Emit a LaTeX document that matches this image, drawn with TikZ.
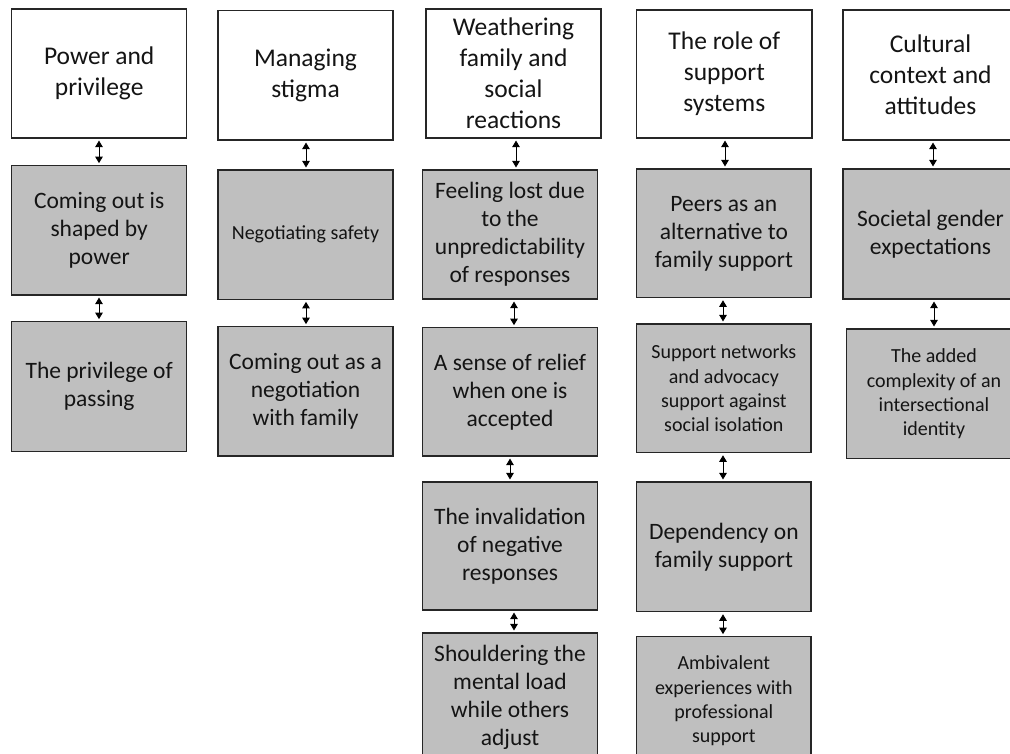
\documentclass[tikz,border=0pt]{standalone}
\usepackage{fontspec}
\setmainfont{Carlito}
\usetikzlibrary{arrows.meta}
\definecolor{gfill}{RGB}{191,191,191}
\definecolor{edge}{RGB}{38,38,38}
\begin{document}
\begin{tikzpicture}[x=1pt,y=-1pt,
  base/.style={draw=edge, line width=1.1pt, inner sep=2pt, align=center, text=black!92,
    font=\fontsize{23.5}{28}\selectfont},
  wbox/.style={base, fill=white, font=\fontsize{25.5}{31}\selectfont},
  gbox/.style={base, fill=gfill},
  small/.style={font=\fontsize{20}{24.2}\selectfont},
  arr/.style={{Triangle[width=7.5pt,length=6.5pt]}-{Triangle[width=7.5pt,length=6.5pt]},
    line width=0.9pt, draw=black, shorten <=2pt, shorten >=2pt}]
\useasboundingbox (0,0) rectangle (1010,753);
\clip (0,0) rectangle (1010,753);
% column 1
\node[wbox, minimum width=175pt, minimum height=129pt] (W1) at (99.2,73.5) {Power and\\privilege};
\node[gbox, minimum width=175pt, minimum height=129.3pt] (G1a) at (99.2,230.35) {Coming out is\\shaped by\\power};
\node[gbox, minimum width=175pt, minimum height=130pt] (G1b) at (99.2,386.7) {The privilege of\\passing};
% column 2
\node[wbox, minimum width=175pt, minimum height=129.3pt] (W2) at (305.5,75.35) {Managing\\stigma};
\node[gbox, small, minimum width=175pt, minimum height=129.3pt] (G2a) at (305.5,234.65) {Negotiating safety};
\node[gbox, minimum width=175pt, minimum height=129.3pt] (G2b) at (305.5,391.35) {Coming out as a\\negotiation\\with family};
% column 3
\node[wbox, minimum width=175pt, minimum height=129pt] (W3) at (513.5,73.5) {Weathering\\family and\\social\\reactions};
\node[gbox, minimum width=174.6pt, minimum height=129pt] (G3a) at (510,234.5) {Feeling lost due\\to the\\unpredictability\\of responses};
\node[gbox, minimum width=174.6pt, minimum height=128.3pt] (G3b) at (510,391.85) {A sense of relief\\when one is\\accepted};
\node[gbox, minimum width=174.6pt, minimum height=128pt] (G3c) at (510,546) {The invalidation\\of negative\\responses};
\node[gbox, minimum width=174.6pt, minimum height=129pt] (G3d) at (510,697.5) {Shouldering the\\mental load\\while others\\adjust};
% column 4
\node[wbox, minimum width=175.3pt, minimum height=128pt] (W4) at (724.35,74) {The role of\\support\\systems};
\node[gbox, minimum width=174.3pt, minimum height=128.7pt] (G4a) at (723.85,233.35) {Peers as an\\alternative to\\family support};
\node[gbox, small, minimum width=174.3pt, minimum height=128.7pt] (G4b) at (723.85,388.35) {Support networks\\and advocacy\\support against\\social isolation};
\node[gbox, minimum width=174.3pt, minimum height=129.7pt] (G4c) at (723.85,546.85) {Dependency on\\family support};
\node[gbox, small, minimum width=174.3pt, minimum height=128.3pt] (G4d) at (723.85,700.85) {Ambivalent\\experiences with\\professional\\support};
% column 5
\node[wbox, minimum width=175pt, minimum height=130pt] (W5) at (930.5,75) {Cultural\\context and\\attitudes};
\node[gbox, minimum width=175pt, minimum height=130pt] (G5a) at (930.5,234) {Societal gender\\expectations};
\node[gbox, small, minimum width=174.6pt, minimum height=129.7pt] (G5b) at (934,393.85) {The added\\complexity of an\\intersectional\\identity};
% arrow columns
\coordinate (x1) at (99,0);
\coordinate (x2) at (306,0);
\coordinate (x3a) at (516,0);
\coordinate (x3b) at (514,0);
\coordinate (x3c) at (510,0);
\coordinate (x3d) at (514,0);
\coordinate (x4a) at (725,0);
\coordinate (x4b) at (723,0);
\coordinate (x5a) at (933,0);
\coordinate (x5b) at (934,0);
% connectors
\draw[arr] (W1.south -| x1) -- (G1a.north -| x1);
\draw[arr] (G1a.south -| x1) -- (G1b.north -| x1);
\draw[arr] (W2.south -| x2) -- (G2a.north -| x2);
\draw[arr] (G2a.south -| x2) -- (G2b.north -| x2);
\draw[arr] (W3.south -| x3a) -- (G3a.north -| x3a);
\draw[arr] (G3a.south -| x3b) -- (G3b.north -| x3b);
\draw[arr] (G3b.south -| x3c) -- (G3c.north -| x3c);
\draw[arr] (G3c.south -| x3d) -- (G3d.north -| x3d);
\draw[arr] (W4.south -| x4a) -- (G4a.north -| x4a);
\draw[arr] (G4a.south -| x4b) -- (G4b.north -| x4b);
\draw[arr] (G4b.south -| x4b) -- (G4c.north -| x4b);
\draw[arr] (G4c.south -| x4b) -- (G4d.north -| x4b);
\draw[arr] (W5.south -| x5a) -- (G5a.north -| x5a);
\draw[arr] (G5a.south -| x5b) -- (G5b.north -| x5b);
\end{tikzpicture}
\end{document}
